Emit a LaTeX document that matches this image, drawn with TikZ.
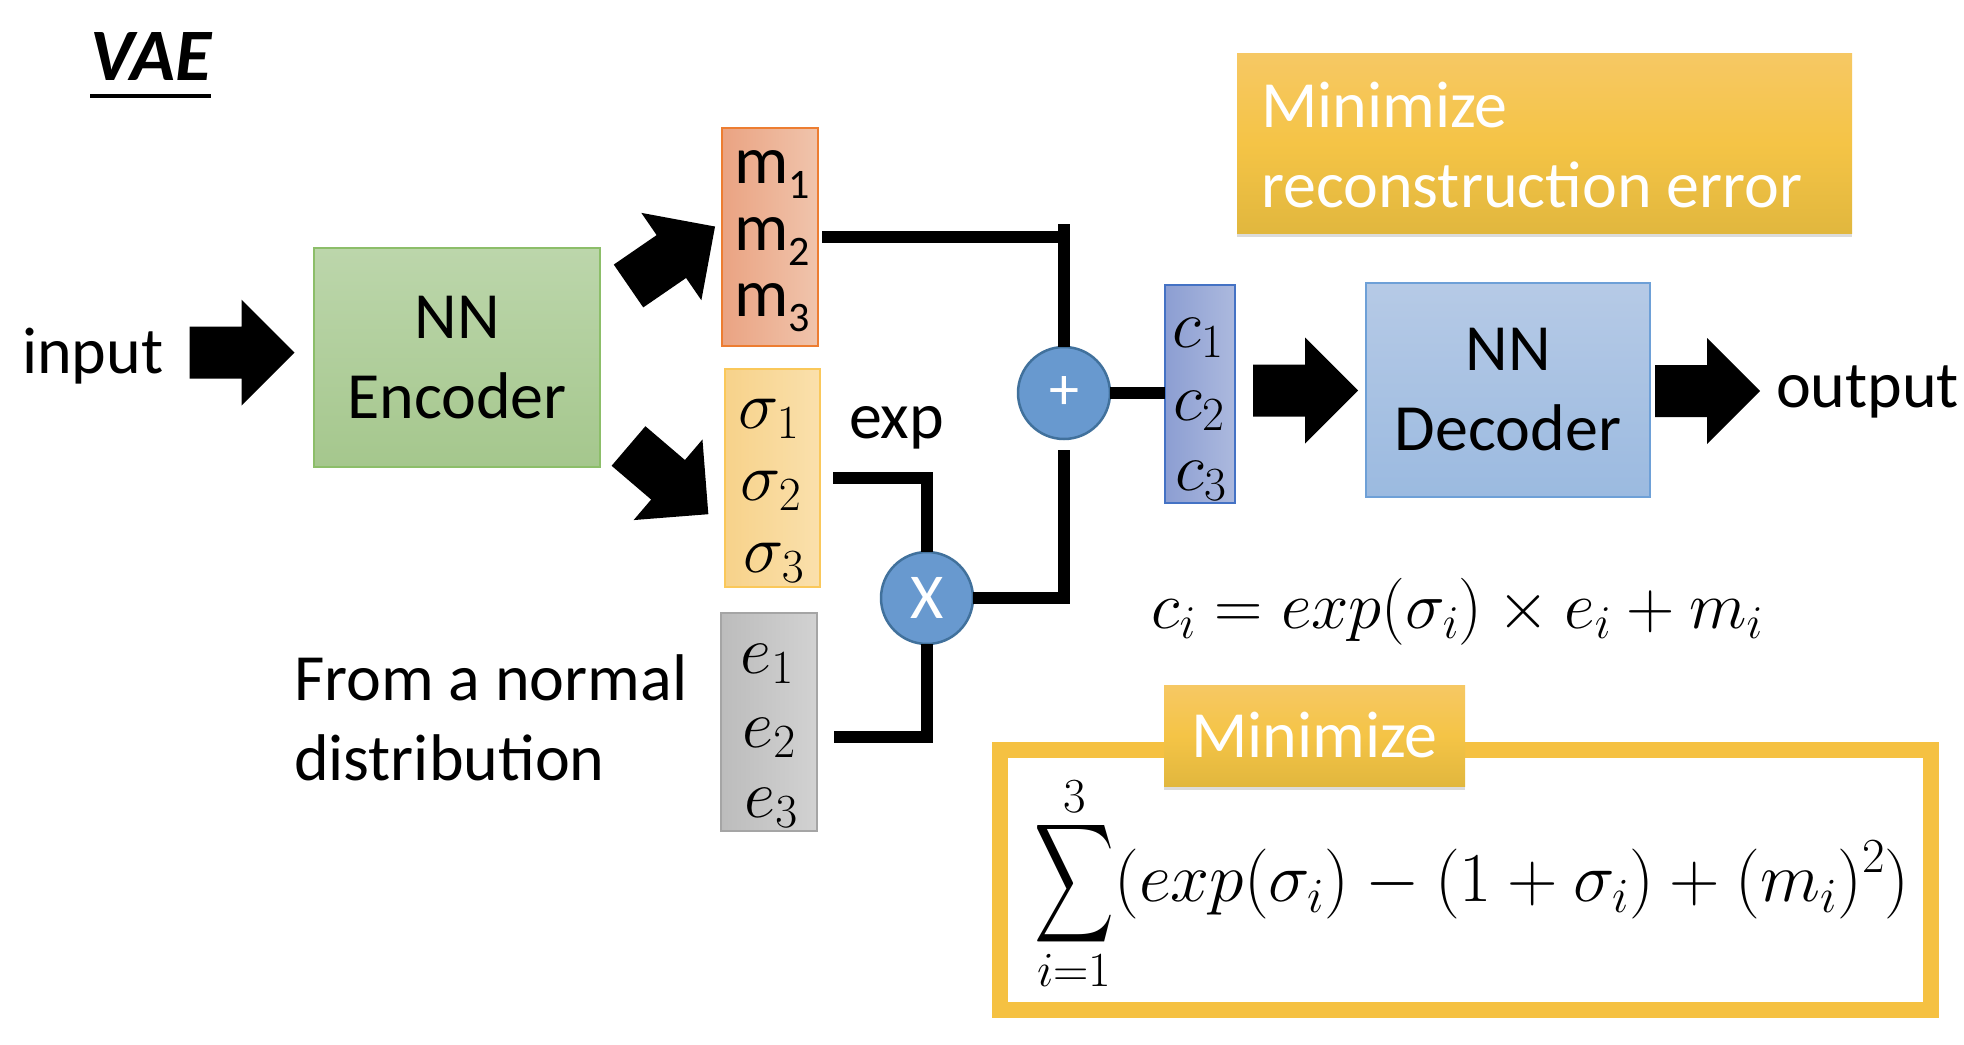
\RequirePackage{fix-cm}
\documentclass[tikz,border=0pt]{standalone}
\usepackage[no-math]{fontspec}
\setmainfont{Carlito}
\usepackage{exscale}
\usepackage{graphicx}
\usetikzlibrary{calc,shadows}

\definecolor{enctop}{RGB}{188,214,171}
\definecolor{encbot}{RGB}{165,199,141}
\definecolor{encborder}{RGB}{140,190,105}
\definecolor{mleft}{RGB}{234,163,130}
\definecolor{mright}{RGB}{240,196,172}
\definecolor{mborder}{RGB}{237,125,49}
\definecolor{sleft}{RGB}{247,210,138}
\definecolor{sright}{RGB}{250,224,172}
\definecolor{sborder}{RGB}{250,200,90}
\definecolor{eleft}{RGB}{188,188,188}
\definecolor{eright}{RGB}{210,210,210}
\definecolor{eborder}{RGB}{165,165,165}
\definecolor{cleft}{RGB}{140,158,210}
\definecolor{cright}{RGB}{172,185,222}
\definecolor{cborder}{RGB}{68,114,196}
\definecolor{dectop}{RGB}{182,202,230}
\definecolor{decbot}{RGB}{155,186,224}
\definecolor{decborder}{RGB}{110,160,215}
\definecolor{opfill}{RGB}{104,153,207}
\definecolor{opborder}{RGB}{65,113,156}
\definecolor{ytop}{RGB}{246,200,100}
\definecolor{ymid}{RGB}{245,196,70}
\definecolor{ybot}{RGB}{225,183,62}
\definecolor{gold}{RGB}{245,193,66}

\newcommand\bodyfont{\fontsize{66}{80}\selectfont}
\newcommand\csub[2]{#1\raisebox{-15pt}{\fontsize{42}{42}\selectfont #2}}
\newcommand\bigsum{\mathop{\vcenter{\hbox{\resizebox{80pt}{125pt}{$\displaystyle\sum$}}}}\limits}
\newcommand\fatarrow[2]{\fill[black,shift={(#1)},rotate=#2] (0,-26) -- (52,-26) -- (52,-53) -- (105,0) -- (52,53) -- (52,26) -- (0,26) -- cycle;}

\tikzset{
  box/.style={draw, line width=1.5pt, inner sep=0pt, outer sep=0pt},
  conn/.style={line width=12pt, black},
  op/.style={circle, draw=opborder, line width=2.5pt, fill=opfill, minimum size=92pt, inner sep=0pt, outer sep=0pt, text=white},
  txt/.style={inner sep=0pt, outer sep=0pt, font=\bodyfont},
  lab/.style={inner sep=0pt, outer sep=0pt, font=\fontsize{68}{80}\selectfont, anchor=base},
  ybox/.style={inner sep=0pt, outer sep=0pt, top color=ytop, bottom color=ybot, middle color=ymid,
    drop shadow={shadow xshift=0pt, shadow yshift=-4pt, fill=black!40, opacity=0.35}},
  wtxt/.style={txt, text=white, anchor=base west}
}

\begin{document}
\begin{tikzpicture}[x=1pt,y=-1pt]
\useasboundingbox[fill=white] (0,0) rectangle (1964,1044);

% title
\node[inner sep=0pt, anchor=base west, font=\fontsize{74}{74}\selectfont\bfseries\itshape] (title) at (90,80) {VAE};
\draw[line width=4pt] ([yshift=-16pt]title.base west) -- ([yshift=-16pt]title.base east);

% encoder and latent boxes
\node[box, draw=encborder, top color=enctop, bottom color=encbot, minimum width=286pt, minimum height=219pt, align=center, font=\bodyfont] (enc) at (457,357.5) {NN\\Encoder};

\node[box, draw=mborder, left color=mleft, right color=mright, minimum width=96pt, minimum height=218pt] (mbox) at (770,237) {};
\node[box, draw=sborder, left color=sleft, right color=sright, minimum width=95pt, minimum height=218pt] (sbox) at (772.5,478) {};
\node[box, draw=eborder, left color=eleft, right color=eright, minimum width=96pt, minimum height=218pt] (ebox) at (769,722) {};
\node[box, draw=cborder, left color=cleft, right color=cright, minimum width=70pt, minimum height=218pt] (cbox) at (1200,394) {};

\node[lab] (m1) at (772,183) {\csub{m}{1}};
\node[lab] (m2) at (772,250) {\csub{m}{2}};
\node[lab] (m3) at (772,316) {\csub{m}{3}};
\node[lab] (s1) at (769,428) {$\sigma_1$};
\node[lab] (s2) at (771,500) {$\sigma_2$};
\node[lab] (s3) at (774,572) {$\sigma_3$};
\node[lab] (e1) at (767,673) {$e_1$};
\node[lab] (e2) at (769,747) {$e_2$};
\node[lab] (e3) at (771,817) {$e_3$};
\node[lab] (c1) at (1198,347) {$c_1$};
\node[lab] (c2) at (1199,420) {$c_2$};
\node[lab] (c3) at (1201,490) {$c_3$};

% decoder
\node[box, draw=decborder, top color=dectop, bottom color=decbot, minimum width=284pt, minimum height=214pt, align=center, font=\bodyfont] (dec) at (1508,390) {NN\\Decoder};

% operators
\node[op, font=\fontsize{60}{60}\selectfont] (plus) at (1064,393) {+};
\node[op, font=\fontsize{64}{64}\selectfont] (mult) at (927,598) {X};

% plain texts
\node[txt, anchor=base west] (input) at (22,373) {input};
\node[txt, anchor=base west] (output) at (1776,407) {output};
\node[txt, anchor=base west] (exp) at (849,438) {exp};
\node[txt, anchor=base west] (normal1) at (294,700) {From a normal};
\node[txt, anchor=base west] (normal2) at (294,780) {distribution};

% connectors
\draw[conn] ([xshift=4pt]mbox.east) -- (mbox.east -| plus);
\draw[conn] ([yshift=13pt]mbox.east -| plus) -- (plus.north);
\draw[conn] ([xshift=13pt]sbox.east) -| (mult.north);
\draw[conn] ([xshift=17pt,yshift=-15pt]ebox.east) -| (mult.south);
\draw[conn] (mult.east) -| ([yshift=-11pt]plus.south);
\draw[conn] (plus.east) -- (plus.east -| cbox.west);

% block arrows
\coordinate (ia) at (189.5,352.5);
\coordinate (ua) at (628.5,286);
\coordinate (la) at (628.5,446);
\coordinate (ca) at (1253,390.5);
\coordinate (oa) at (1655,391);
\fatarrow{ia}{0}
\fatarrow{ua}{34.5}
\fatarrow{la}{-40.5}
\fatarrow{ca}{0}
\fatarrow{oa}{0}

% reconstruction box
\node[ybox, minimum width=615pt, minimum height=180pt] (rbox) at (1544.5,143) {};
\node[wtxt] (r1) at (1261,127) {Minimize};
\node[wtxt] (r2) at (1261,207) {reconstruction error};

% formula c_i
\node[txt, font=\fontsize{67}{70}\selectfont] (ci) at (1457,612) {$c_i = exp(\sigma_i)\times e_i + m_i$};

% loss frame
\node[draw=gold, line width=16pt, fill=white, minimum width=930.7pt, minimum height=260pt, inner sep=0pt, outer sep=0pt] (frame) at (1465.65,880) {};
\node[ybox, minimum width=301pt, minimum height=101pt, text=white, font=\bodyfont] (mlab) at (1314.5,735.5) {Minimize};
\node[txt, font=\fontsize{70}{72}\selectfont] (loss) at (1472,884) {$\displaystyle \bigsum_{i=1}^{3}(exp(\sigma_i)-(1+\sigma_i)+(m_i)^2)$};
\end{tikzpicture}
\end{document}
